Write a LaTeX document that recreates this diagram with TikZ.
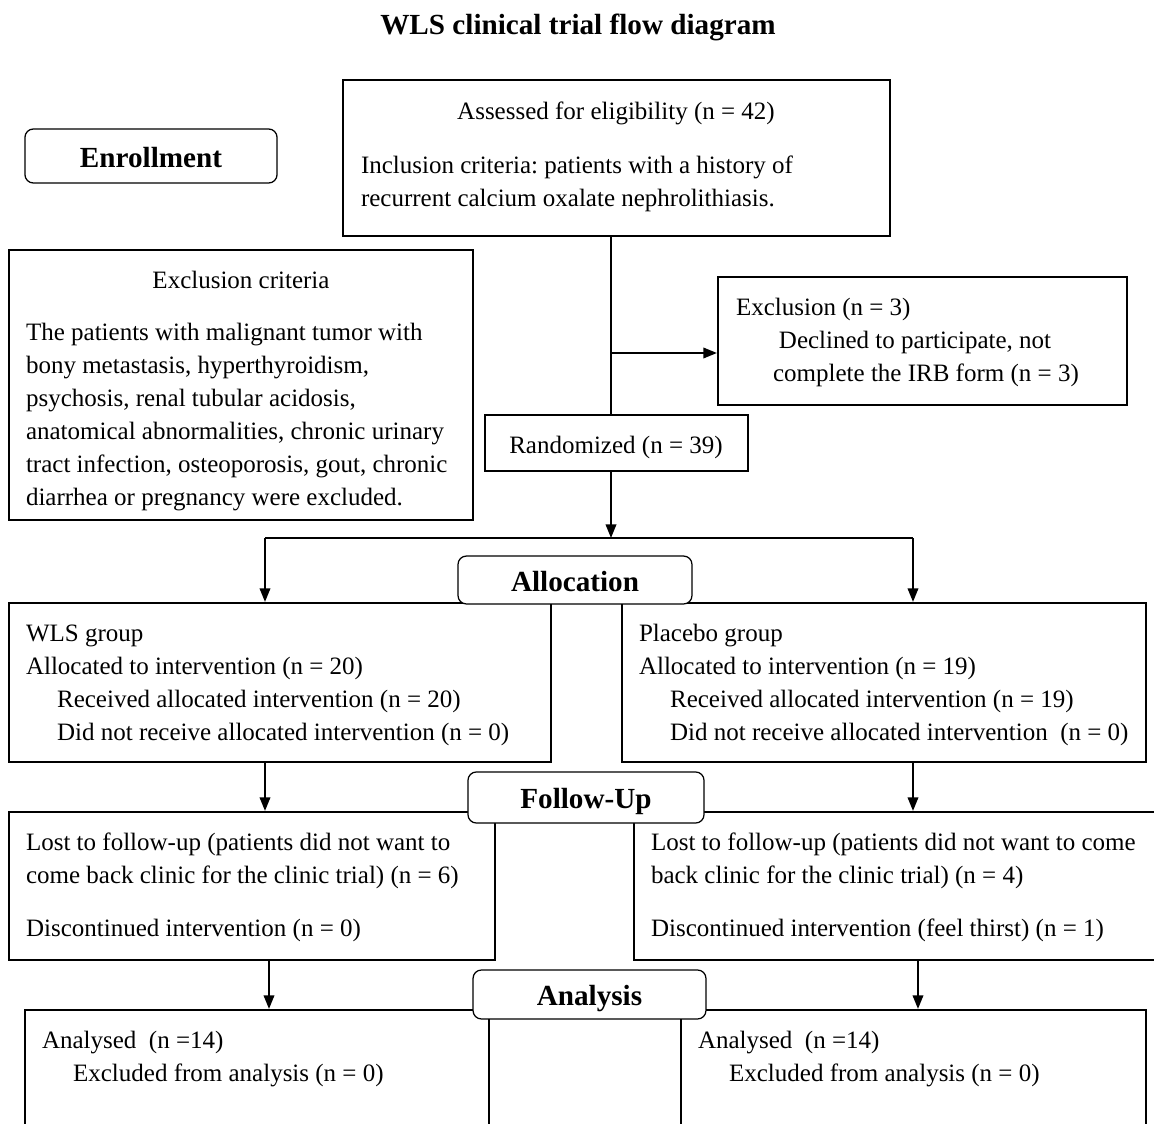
\documentclass[tikz,border=0pt]{standalone}
\usepackage{fontspec}
\setmainfont{Liberation Serif}
\usetikzlibrary{arrows.meta,fit}
\newcommand{\indnt}{\hspace*{14.9pt}}
\frenchspacing

\begin{document}
\begin{tikzpicture}[>={Triangle[length=6.5pt,width=5pt]},x=0.48pt,y=-0.48pt,line width=1pt]
\tikzstyle{box}=[draw,inner sep=0pt]
\tikzstyle{tag}=[draw,semithick,rounded corners=4pt,fill=white,inner sep=0pt,
                 text height=11pt,text depth=0pt,font=\fontsize{14}{16}\selectfont\bfseries]
\tikzstyle{txt}=[anchor=base west,inner sep=0pt,text width=12cm,align=flush left,
                 font=\fontsize{12}{15.84}\selectfont]
\tikzstyle{ctr}=[anchor=base,inner sep=0pt,font=\fontsize{12}{15.84}\selectfont]

\useasboundingbox (0,0) rectangle (1154,1124);
\clip (0,0) rectangle (1154,1124);

\node[anchor=base,font=\fontsize{14}{16}\selectfont\bfseries] (TITLE) at (578,35)
     {WLS clinical trial flow diagram};

% boxes
\node[box,fit={(343,80) (890,236)}] (ASSESS) {};
\node[box,fit={(9,250) (473,520)}] (EXCRIT) {};
\node[box,fit={(718,277) (1127,405)}] (EXCL) {};
\node[box,fit={(485,415) (748,471)}] (RAND) {};
\node[box,fit={(9,603) (551,762)}] (WLS) {};
\node[box,fit={(622,603) (1146,762)}] (PLAC) {};
\node[box,fit={(9,812) (495,960)}] (LOSTW) {};
\node[box,fit={(634,812) (1170,960)}] (LOSTP) {};
\node[box,fit={(25,1010) (489,1150)}] (ANAW) {};
\node[box,fit={(681,1010) (1146,1150)}] (ANAP) {};

% texts
\node[ctr] (ASSESSt) at (616,119) {Assessed for eligibility (n = 42)};
\node[txt] (INCLt) at (360,173) {Inclusion criteria: patients with a history of\\
  recurrent calcium oxalate nephrolithiasis.};
\node[ctr] (EXCRITh) at (241,288) {Exclusion criteria};
\node[txt] (EXCRITt) at (25,340) {The patients with malignant tumor with\\
  bony metastasis, hyperthyroidism,\\psychosis, renal tubular acidosis,\\
  anatomical abnormalities, chronic urinary\\
  tract infection, osteoporosis, gout, chronic\\
  diarrhea or pregnancy were excluded.};
\node[txt] (EXCLt) at (735,315) {Exclusion (n = 3)\\
  \hspace*{20.6pt}Declined to participate, not\\
  \hspace*{17.8pt}complete the IRB form (n = 3)};
\node[ctr] (RANDt) at (616,453) {Randomized (n = 39)};
\node[txt] (WLSt) at (25,641) {WLS group\\Allocated to intervention (n = 20)\\
  \indnt Received allocated intervention (n = 20)\\
  \indnt Did not receive allocated intervention (n = 0)};
\node[txt] (PLACt) at (638,641) {Placebo group\\Allocated to intervention (n = 19)\\
  \indnt Received allocated intervention (n = 19)\\
  \indnt Did not receive allocated intervention\ \ (n = 0)};
\node[txt] (LOSTWt) at (25,850) {Lost to follow-up (patients did not want to\\
  come back clinic for the clinic trial) (n = 6)\\[9.6pt]
  Discontinued intervention (n = 0)};
\node[txt] (LOSTPt) at (650,850) {Lost to follow-up (patients did not want to come\\
  back clinic for the clinic trial) (n = 4)\\[9.6pt]
  Discontinued intervention (feel thirst) (n = 1)};
\node[txt] (ANAWt) at (41,1048) {Analysed\ \ (n =14)\\
  \indnt Excluded from analysis (n = 0)};
\node[txt] (ANAPt) at (697,1048) {Analysed\ \ (n =14)\\
  \indnt Excluded from analysis (n = 0)};

% connectors
\coordinate (SPLIT) at (611,353);
\coordinate (FORK) at (611,538);
\coordinate (FORKL) at (265,538);
\coordinate (FORKR) at (913,538);
\coordinate (DOWNL) at (269,960);
\coordinate (DOWNR) at (918,960);

\draw (ASSESS.south -| SPLIT) -- (RAND.north -| SPLIT);
\draw[->] (SPLIT) -- (SPLIT -| EXCL.west);
\draw[->] (RAND.south -| FORK) -- (FORK);
\draw (FORKL) -- (FORKR);
\draw[->] (FORKL) -- (FORKL |- WLS.north);
\draw[->] (FORKR) -- (FORKR |- PLAC.north);
\draw[->] (WLS.south -| FORKL) -- (LOSTW.north -| FORKL);
\draw[->] (PLAC.south -| FORKR) -- (LOSTP.north -| FORKR);
\draw[->] (DOWNL) -- (ANAW.north -| DOWNL);
\draw[->] (DOWNR) -- (ANAP.north -| DOWNR);

% stage tags
\node[tag,minimum width=121pt,minimum height=25.9pt] (ENROL) at (151,156) {Enrollment};
\node[tag,minimum width=112.3pt,minimum height=23pt] (ALLOC) at (575,580) {Allocation};
\node[tag,minimum width=113.3pt,minimum height=24.5pt] (FOLLOW) at (586,797.5) {Follow-Up};
\node[tag,minimum width=111.8pt,minimum height=23.5pt] (ANALYS) at (589.5,994.5) {Analysis};
\end{tikzpicture}
\end{document}
